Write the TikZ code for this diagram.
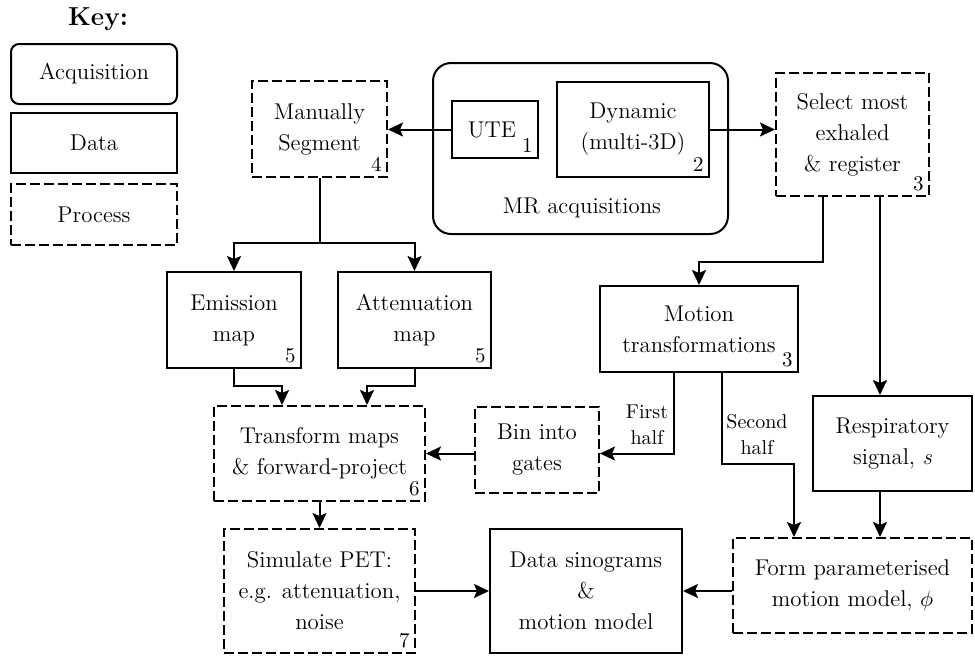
\documentclass[tikz,border=0pt]{standalone}
\usetikzlibrary{arrows.meta,calc}
\begin{document}
\begin{tikzpicture}[x=0.5pt,y=-0.5pt,
 every node/.style={font=\fontsize{11.4}{15.5}\selectfont, align=center, inner sep=0pt},
 base/.style={draw, line width=1pt, align=center},
 acqbox/.style={base, rounded corners=4pt},
 databox/.style={base},
 procbox/.style={base, dash pattern=on 5pt off 2pt},
 num/.style={anchor=south east, inner sep=3pt, font=\fontsize{10.5}{13}\selectfont},
 lbl/.style={font=\fontsize{10}{13}\selectfont, align=center},
 arr/.style={line width=1pt, -{Stealth[length=7.5pt,width=7pt,inset=1.5pt]}},
 conn/.style={line width=1pt},
]
\useasboundingbox (0,0) rectangle (975,655);

% Key
\node[font=\bfseries\fontsize{13}{16}\selectfont] (key) at (98,19) {Key:};
\node[acqbox, minimum width=83pt, minimum height=30pt] (kacq) at (94,74) {Acquisition};
\node[databox, minimum width=83pt, minimum height=30pt] (kdat) at (94,143) {Data};
\node[procbox, minimum width=83pt, minimum height=30.5pt] (kpro) at (94,214.5) {Process};

% MR acquisitions
\node[acqbox, rounded corners=9pt, minimum width=147.5pt, minimum height=85.5pt] (mr) at (580.5,148.5) {};
\node (mrl) at (582,208) {MR acquisitions};
\node[databox, minimum width=43pt, minimum height=28.5pt] (ute) at (495,129.5) {UTE\hspace*{3pt}};
\node[num] at (ute.south east) {1};
\node[databox, minimum width=76pt, minimum height=47.5pt] (dyn) at (633,129.5) {Dynamic\\(multi-3D)};
\node[num] at (dyn.south east) {2};

% Boxes
\node[procbox, minimum width=67.5pt, minimum height=48pt] (man) at (319.5,129) {Manually\\Segment};
\node[num] at (man.south east) {4};
\node[procbox, minimum width=76.5pt, minimum height=61.5pt] (sel) at (852.5,134.5) {Select most\\exhaled\\\& register};
\node[num] at (sel.south east) {3};
\node[databox, minimum width=67pt, minimum height=48pt] (emi) at (234,320) {Emission\\map};
\node[num] at (emi.south east) {5};
\node[databox, minimum width=76.5pt, minimum height=48pt] (att) at (414.5,320) {Attenuation\\map};
\node[num] at (att.south east) {5};
\node[databox, minimum width=99pt, minimum height=43pt] (mot) at (699,329) {Motion\\transformations};
\node[num] at (mot.south east) {3};
\node[procbox, minimum width=105.5pt, minimum height=47.5pt] (tr) at (319.5,453.5) {Transform maps\\\& forward-project};
\node[num] at (tr.south east) {6};
\node[procbox, minimum width=62pt, minimum height=43pt] (bin) at (537,450) {Bin into\\gates};
\node[databox, minimum width=79.5pt, minimum height=47.5pt] (resp) at (892.5,443.5) {Respiratory\\signal, \textit{s}};
\node[procbox, minimum width=95.5pt, minimum height=62pt] (sim) at (319.5,591) {Simulate PET:\\e.g. attenuation,\\noise};
\node[num] at (sim.south east) {7};
\node[databox, minimum width=96pt, minimum height=62pt] (dat) at (586,591) {Data sinograms\\\&\\motion model};
\node[procbox, minimum width=119.5pt, minimum height=47.5pt] (form) at (852.5,585.5) {Form parameterised\\motion model, $\phi$};

% Connectors
\draw[arr] (ute.west) -- (man.east |- ute.west);
\draw[arr] (dyn.east) -- (sel.west |- dyn.east);
\coordinate (split) at (319.5,243);
\draw[arr] (man.south) -- (split) -| (emi.north);
\draw[arr] (split) -| (att.north);
\draw[arr] (emi.south) -- ++(0,17) -| ($(tr.north)+(-37.5,0)$);
\draw[arr] (att.south) -- ++(0,17) -| ($(tr.north)+(47.5,0)$);
\draw[arr] (tr.south) -- (sim.north);
\draw[arr] (sim.east) -- (dat.west);
\draw[arr] (form.west |- dat.east) -- (dat.east);
\draw[arr] ($(sel.south)+(-29.5,0)$) -- ++(0,65) -| (mot.north);
\coordinate (rx) at ($(sel.south)+(27.5,0)$);
\draw[arr] (rx) -- (rx |- resp.north);
\draw[arr] (rx |- resp.south) -- (rx |- form.north);
\draw[arr] ($(mot.south)+(-25,0)$) |- (bin.east |- tr.east);
\draw[arr] (bin.west |- tr.east) -- (tr.east);
\draw[arr] ($(mot.south)+(23,0)$) -- ++(0,91) -| ($(form.north)+(-58.5,0)$);

% Labels
\node[lbl] (l1) at (647,424.5) {First\\half};
\node[lbl] (l2) at (757,435) {Second\\half};
\end{tikzpicture}
\end{document}
